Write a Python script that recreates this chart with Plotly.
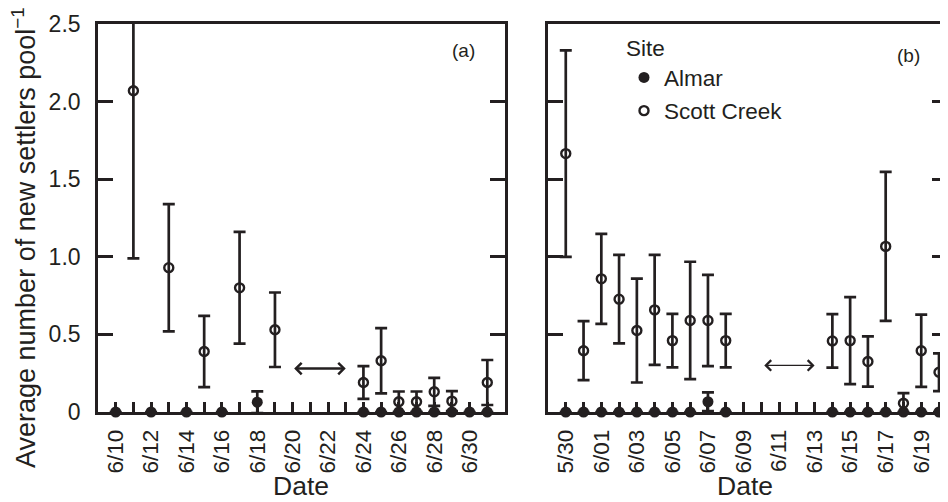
import plotly.graph_objects as go

# ---------------- data ----------------
# Panel (a)
almar_a_dates = ["2008-06-10", "2008-06-12", "2008-06-14", "2008-06-16", "2008-06-18",
                 "2008-06-24", "2008-06-25", "2008-06-26", "2008-06-27", "2008-06-28",
                 "2008-06-29", "2008-06-30", "2008-07-01"]
almar_a_mean = [0, 0, 0, 0, 0.063, 0, 0, 0, 0, 0, 0, 0, 0]
almar_a_err = [0, 0, 0, 0, 0.07, 0, 0, 0, 0, 0, 0, 0, 0]

scott_a_dates = ["2008-06-11", "2008-06-13", "2008-06-15", "2008-06-17", "2008-06-19",
                 "2008-06-24", "2008-06-25", "2008-06-26", "2008-06-27", "2008-06-28",
                 "2008-06-29", "2008-07-01"]
scott_a_mean = [2.07, 0.93, 0.39, 0.80, 0.53, 0.19, 0.33, 0.066, 0.066, 0.13, 0.07, 0.19]
scott_a_err = [1.08, 0.41, 0.23, 0.36, 0.24, 0.105, 0.21, 0.066, 0.066, 0.09, 0.065, 0.145]

# Panel (b)
almar_b_dates = ["2008-05-30", "2008-05-31", "2008-06-01", "2008-06-02", "2008-06-03",
                 "2008-06-04", "2008-06-05", "2008-06-06", "2008-06-07", "2008-06-08",
                 "2008-06-14", "2008-06-15", "2008-06-16", "2008-06-17", "2008-06-18",
                 "2008-06-19", "2008-06-20"]
almar_b_mean = [0, 0, 0, 0, 0, 0, 0, 0, 0.066, 0, 0, 0, 0, 0, 0, 0, 0]
almar_b_err = [0, 0, 0, 0, 0, 0, 0, 0, 0.06, 0, 0, 0, 0, 0, 0, 0, 0]

scott_b_dates = ["2008-05-30", "2008-05-31", "2008-06-01", "2008-06-02", "2008-06-03",
                 "2008-06-04", "2008-06-05", "2008-06-06", "2008-06-07", "2008-06-08",
                 "2008-06-14", "2008-06-15", "2008-06-16", "2008-06-17", "2008-06-18",
                 "2008-06-19", "2008-06-20"]
scott_b_mean = [1.665, 0.395, 0.858, 0.727, 0.525, 0.658, 0.46, 0.59, 0.59, 0.46,
                0.458, 0.46, 0.325, 1.067, 0.056, 0.395, 0.256]
scott_b_err = [0.665, 0.19, 0.29, 0.285, 0.335, 0.355, 0.172, 0.378, 0.294, 0.172,
               0.172, 0.28, 0.162, 0.48, 0.065, 0.233, 0.122]

# sampling gaps (double arrows)
gap_a = ["2008-06-20", "2008-06-23"]
gap_a_level = 0.28
gap_b = ["2008-06-10 02:00", "2008-06-13"]
gap_b_level = 0.30

# axis ticks
ticks_a = ["2008-06-%02d" % d for d in range(10, 31)] + ["2008-07-01"]
ticktext_a = ["6/%d" % d if d % 2 == 0 else "" for d in range(10, 31)] + [""]
ticks_b = ["2008-05-30", "2008-05-31"] + ["2008-06-%02d" % d for d in range(1, 21)]
ticktext_b = ["5/30", ""] + ["6/%02d" % d if d % 2 == 1 else "" for d in range(1, 21)]
ytick_vals = [0, 0.5, 1.0, 1.5, 2.0, 2.5]
ytick_text = ["0", "0.5", "1.0", "1.5", "2.0", "2.5"]

# ---------------- style ----------------
INK = "#231f20"
FONT = "Liberation Sans"
W, H = 948, 502
OFF = 8  # page body margin


def px_x(p):
    return (p - OFF) / W


def px_y(p):
    return 1 - (p - OFF) / H


fig = go.Figure()


def add_panel(xa, ya, a_dates, a_mean, a_err, s_dates, s_mean, s_err, legend):
    fig.add_trace(go.Scatter(
        x=s_dates, y=s_mean, mode="markers", name="Scott Creek",
        xaxis=xa, yaxis=ya, showlegend=legend, legendgroup="s", legendrank=2,
        marker=dict(symbol="circle-open", size=9, color=INK, line=dict(width=2.4, color=INK)),
        error_y=dict(type="data", array=s_err, visible=True, color=INK, thickness=2.7, width=6),
        cliponaxis=True,
    ))
    fig.add_trace(go.Scatter(
        x=a_dates, y=a_mean, mode="markers", name="Almar",
        xaxis=xa, yaxis=ya, showlegend=legend, legendgroup="a", legendrank=1,
        marker=dict(symbol="circle", size=11, color=INK),
        error_y=dict(type="data", array=a_err, visible=True, color=INK, thickness=2.7, width=6),
        cliponaxis=False,
    ))


add_panel("x", "y", almar_a_dates, almar_a_mean, almar_a_err,
          scott_a_dates, scott_a_mean, scott_a_err, False)
add_panel("x2", "y2", almar_b_dates, almar_b_mean, almar_b_err,
          scott_b_dates, scott_b_mean, scott_b_err, True)

ydom = [px_y(412), px_y(24)]
xcommon = dict(type="date", showgrid=False, zeroline=False, showline=True, linewidth=2.6,
               linecolor=INK, mirror=True, ticks="inside", ticklen=10, tickwidth=2.6,
               tickcolor=INK, tickangle=-90, ticklabelstandoff=6,
               tickfont=dict(family=FONT, size=22.5, color=INK), automargin=False)
ycommon = dict(range=[0, 2.5], showgrid=False, zeroline=False, showline=True, linewidth=2.6,
               linecolor=INK, mirror="ticks", ticks="inside", ticklen=15, tickwidth=2.6,
               tickcolor=INK, tickvals=ytick_vals, ticktext=ytick_text,
               tickfont=dict(family=FONT, size=23, color=INK), automargin=False, domain=ydom)

fig.update_layout(
    width=W, height=H,
    margin=dict(l=0, r=0, t=0, b=0),
    paper_bgcolor="white", plot_bgcolor="white",
    font=dict(family=FONT, color=INK),
    xaxis=dict(xcommon, domain=[px_x(98), px_x(505)], range=["2008-06-09", "2008-07-02"],
               tickvals=ticks_a, ticktext=ticktext_a),
    yaxis=dict(ycommon, anchor="x", ticklabelstandoff=10),
    xaxis2=dict(xcommon, domain=[px_x(548), px_x(947)], range=["2008-05-29", "2008-06-20 10:48"],
                tickvals=ticks_b, ticktext=ticktext_b, anchor="y2"),
    yaxis2=dict(ycommon, anchor="x2", showticklabels=False),
    legend=dict(x=px_x(624), y=px_y(27), xanchor="left", yanchor="top",
                bgcolor="rgba(0,0,0,0)", font=dict(family=FONT, size=22.5, color=INK),
                title=dict(text="Site", font=dict(family=FONT, size=22.5, color=INK)),
                tracegroupgap=1, itemwidth=30),
)


def label(text, x, y, size, angle=0):
    return dict(text=text, x=px_x(x), y=px_y(y), xref="paper", yref="paper",
                xanchor="center", yanchor="middle", showarrow=False, textangle=angle,
                font=dict(family=FONT, size=size, color=INK))


annotations = [
    label("Average number of new settlers pool<sup>−1</sup>", 24, 238, 27, -90),
    label("Date", 301, 486, 26.5),
    label("Date", 745, 486, 26.5),
    label("(a)", 463, 50, 19),
    label("(b)", 908, 55, 19),
    dict(text="", x=gap_a[1], y=gap_a_level, ax=gap_a[0], ay=gap_a_level,
         xref="x", yref="y", axref="x", ayref="y", showarrow=True, arrowhead=4,
         startarrowhead=4, arrowside="end+start", arrowwidth=2.6, arrowsize=0.85,
         startarrowsize=0.85, arrowcolor=INK, standoff=0, startstandoff=0),
    dict(text="", x=gap_b[1], y=gap_b_level, ax=gap_b[0], ay=gap_b_level,
         xref="x2", yref="y2", axref="x2", ayref="y2", showarrow=True, arrowhead=4,
         startarrowhead=4, arrowside="end+start", arrowwidth=1.2, arrowsize=1.7,
         startarrowsize=1.7, arrowcolor=INK, standoff=0, startstandoff=0),
]
fig.update_layout(annotations=annotations)

fig.write_html("out.html")
